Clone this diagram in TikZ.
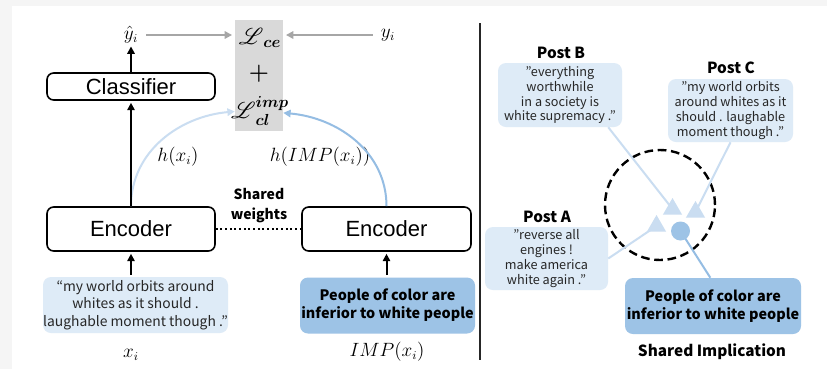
\documentclass[tikz,border=0pt]{standalone}
\usepackage{amsmath}
\usepackage{mathrsfs}
\usepackage{bm}
\usepackage{fontspec}
\setmainfont{Noto Sans CJK KR}
\newfontfamily\arialfont{Liberation Sans}
\usetikzlibrary{shapes.geometric,arrows.meta}

\definecolor{bgout}{HTML}{F5F5F5}
\definecolor{boxlight}{HTML}{DEEBF7}
\definecolor{boxmid}{HTML}{9DC3E6}
\definecolor{linelight}{HTML}{CADDF1}
\definecolor{arcmid}{HTML}{95BDE3}
\definecolor{lossgray}{HTML}{D9D9D9}
\definecolor{arrowgray}{HTML}{A6A6A6}
\definecolor{textdark}{HTML}{262626}

\newcommand{\sq}{\symbol{34}}

\begin{document}
\begin{tikzpicture}[x=0.75pt,y=-0.75pt,
  blk/.style={draw=black, line width=1.2pt, rounded corners=5pt, fill=white, inner sep=0pt,
    font=\arialfont\fontsize{16.5}{18}\selectfont},
  inlight/.style={fill=boxlight, rounded corners=6pt, inner sep=0pt, align=center,
    text=textdark, font=\fontsize{10.4}{13.2}\selectfont},
  inmid/.style={fill=boxmid, rounded corners=6pt, inner sep=0pt, align=center,
    text=black, font=\bfseries\fontsize{10.8}{13.5}\selectfont},
  postbox/.style={fill=boxlight, rounded corners=6pt, inner sep=0pt, align=center,
    text=textdark, font=\fontsize{9.5}{11.2}\selectfont},
  posttitle/.style={font=\bfseries\fontsize{11.5}{13}\selectfont},
  mathlbl/.style={inner sep=1pt, font=\fontsize{13.5}{15}\selectfont},
  lossterm/.style={inner sep=0pt, font=\fontsize{17.5}{19}\selectfont},
  grayarrow/.style={draw=arrowgray, line width=1.5pt, -{Triangle[length=5.5pt,width=5.5pt]}},
  blackarrow/.style={draw=black, line width=1.5pt, -{Triangle[length=5.5pt,width=5.5pt]}},
  arclight/.style={draw=linelight, line width=1.5pt, -{Triangle[length=5.5pt,width=5.5pt]}},
  arcdark/.style={draw=arcmid, line width=1.5pt, -{Triangle[length=5.5pt,width=5.5pt]}},
  postline/.style={draw=linelight, line width=1.5pt},
  marker/.style={regular polygon, regular polygon sides=3, fill=linelight, inner sep=0pt, minimum size=16.5pt},
]
\useasboundingbox (0,0) rectangle (827,369);
% page backdrop
\fill[bgout] (0,0) rectangle (827,369);
\fill[white] (12,6) rectangle (827,369);

% ---------------- left: training setup ----------------
\node[fill=lossgray, inner sep=0pt, minimum width=36pt, minimum height=83.25pt] (loss) at (259,75.5) {};
\node[lossterm] (lce) at (260,38) {$\bm{\mathscr{L}_{ce}}$};
\node[lossterm] (plus) at (259,74) {$\bm{+}$};
\node[lossterm] (lcl) at (260,111) {$\bm{\mathscr{L}_{cl}^{imp}}$};

\node[mathlbl] (yhat) at (131,35) {$\hat{y}_i$};
\node[mathlbl] (yi) at (388,35) {$y_i$};

\node[blk, minimum width=126pt, minimum height=20.25pt] (cls) at (131,86.5) {Classifier};
\node[blk, minimum width=126pt, minimum height=33pt] (encL) at (131,229) {Encoder};
\node[blk, minimum width=126.75pt, minimum height=33pt] (encR) at (386.5,229) {Encoder};

\node[inlight, minimum width=138.75pt, minimum height=42pt] (inL) at (135.5,305)
  {“my world orbits around\\whites as it should .\\laughable moment though .”};
\node[inmid, minimum width=131.25pt, minimum height=42pt] (inR) at (387.5,305.5)
  {People of color are\\inferior to white people};

\node[mathlbl] (xi) at (131,355) {$x_i$};
\node[mathlbl] (impx) at (387,352) {$IMP(x_i)$};

\node[mathlbl] (hx) at (178,157) {$h(x_i)$};
\node[mathlbl] (himp) at (320,157) {$h(IMP(x_i))$};

\node[align=center, font=\bfseries\fontsize{10.5}{15}\selectfont] (shared) at (259,206) {Shared\\weights};

% representation arcs into the contrastive term
\draw[arclight] (encL.north) to[out=90,in=185] (loss.236.7);
\draw[arcdark] (encR.north) to[out=90,in=-5] (loss.303.3);

% label arrows
\draw[grayarrow, shorten <=5pt, shorten >=2pt] (yhat) -- (yhat -| loss.west);
\draw[grayarrow, shorten <=5pt, shorten >=2pt] (yi) -- (yi -| loss.east);

% forward path
\draw[blackarrow, shorten >=1pt] (cls.north) -- (yhat.south);
\draw[blackarrow, shorten >=1.5pt] (encL.north) -- (cls.south);
\draw[blackarrow, shorten <=1.5pt, shorten >=1.5pt] (encL.south |- inL.north) -- (encL.south);
\draw[blackarrow, shorten <=1.5pt, shorten >=1.5pt] (encR.south |- inR.north) -- (encR.south);
\draw[black, line width=1.5pt, dotted] (encL.east) -- (encR.west);

% divider
\draw[black!85, line width=1.5pt] (480,23) -- (480,360);

% ---------------- right: shared implication ----------------
\node[postbox, minimum width=93pt, minimum height=48pt] (postB) at (560,95)
  {\sq everything\\worthwhile\\in a society is\\white supremacy .\sq};
\node[posttitle] (titleB) at (561,53) {Post B};

\node[postbox, minimum width=93.75pt, minimum height=47.25pt] (postC) at (730.5,110.5)
  {\sq my world orbits\\around whites as it\\should . laughable\\moment though .\sq};
\node[posttitle] (titleC) at (731,68) {Post C};

\node[postbox, minimum width=92.25pt, minimum height=47.25pt] (postA) at (546.5,258.5)
  {\sq reverse all\\engines !\\make america\\white again .\sq};
\node[posttitle] (titleA) at (547,217) {Post A};

\node[inmid, minimum width=132pt, minimum height=42pt] (impl) at (713,306)
  {People of color are\\inferior to white people};
\node[font=\bfseries\fontsize{11.5}{13}\selectfont] (implTitle) at (712,352) {Shared Implication};

% region of the shared implication
\node[circle, draw=black, line width=1.8pt, dash pattern=on 6.5pt off 3.5pt, minimum size=82.5pt, inner sep=0pt] (zone) at (660,205) {};

% posts and implication embedded in the region
\coordinate (tB) at (672.5,209);
\coordinate (tC) at (695.5,212);
\coordinate (tA) at (656.5,226);
\coordinate (dot) at (680.5,231);
\draw[postline] ([xshift=-10.5pt]postB.south east) -- (tB);
\draw[postline] (postC.south) -- (tC);
\draw[postline] (postA.east) -- (tA);
\draw[draw=arcmid, line width=1.5pt] (dot) -- ([xshift=-2pt]impl.north);
\node[marker] (markB) at (tB) {};
\node[marker] (markC) at (tC) {};
\node[marker] (markA) at (tA) {};
\node[circle, fill=boxmid, inner sep=0pt, minimum size=14.25pt] (dotmark) at (dot) {};
\end{tikzpicture}
\end{document}
